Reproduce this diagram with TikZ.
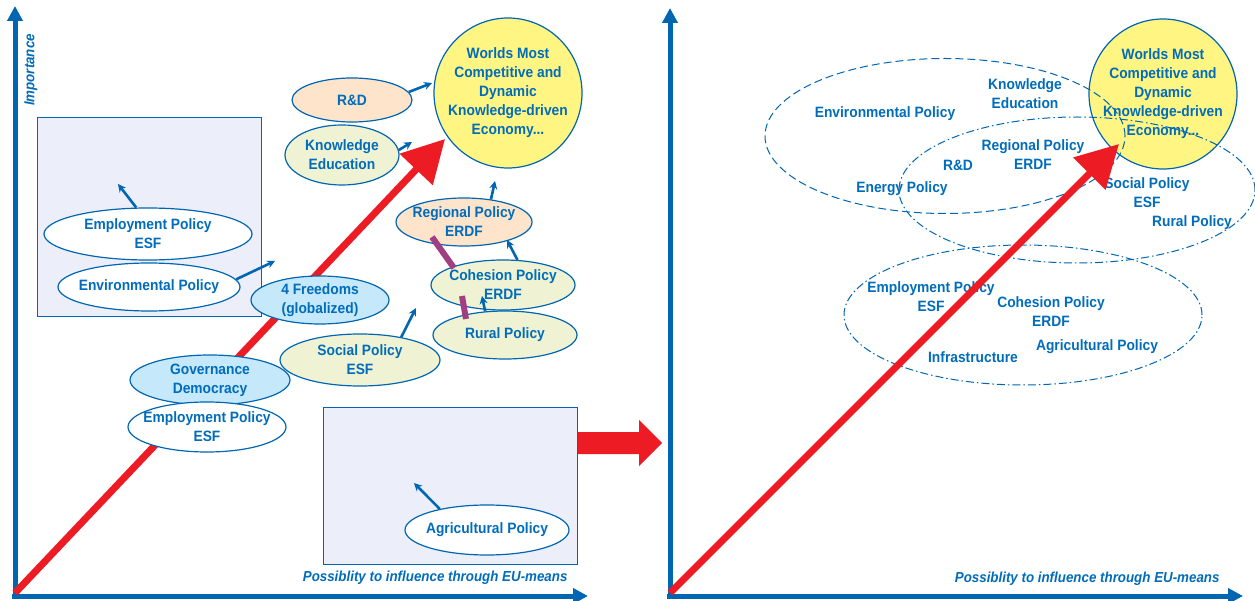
\documentclass[tikz,border=0pt]{standalone}
\usepackage{fontspec}
\setmainfont{Liberation Sans}[FakeStretch=0.92]
\usetikzlibrary{positioning, shapes.geometric, arrows.meta}
\definecolor{eublue}{RGB}{0,102,178}
\definecolor{eutext}{RGB}{0,108,186}
\definecolor{eured}{RGB}{237,28,36}
\definecolor{peach}{RGB}{253,228,202}
\definecolor{pale}{RGB}{240,243,211}
\definecolor{sky}{RGB}{197,232,250}
\definecolor{gold}{RGB}{255,245,130}
\definecolor{lav}{RGB}{236,239,249}
\definecolor{plum}{RGB}{160,64,130}

\begin{document}
\begin{tikzpicture}[x=1pt, y=-1pt,
  txt/.style={text=eutext, font=\bfseries\fontsize{15}{19}\selectfont, align=center},
  pol/.style={ellipse, draw=eublue, line width=1.2pt, inner xsep=-14pt, inner ysep=-8pt, txt},
  boxed/.style={draw=eublue, fill=lav, line width=1pt},
  small/.style={eublue, line width=2.6pt, -{Stealth[length=8pt,width=8pt]}},
  axis/.style={eublue, line width=5pt, -{Triangle[length=15pt,width=15pt]}},
  bigarr/.style={eured, line width=7pt, -{Triangle[length=42pt,width=44pt]}},
  lbl/.style={text=eutext, font=\bfseries\itshape\fontsize{14.5}{16}\selectfont},
  zdash/.style={ellipse, draw=eublue, line width=1pt, dash pattern=on 8pt off 4pt},
  zdot/.style={ellipse, draw=eublue, line width=1pt, dash pattern=on 8pt off 3pt on 1.5pt off 3pt}]
  \useasboundingbox (0,0) rectangle (1255,601);

  \coordinate (o1) at (15,596);
  \coordinate (y1) at (15,6);
  \coordinate (x1) at (588,596);
  \coordinate (r1) at (15,593);
  \coordinate (r1tip) at (445,139);
  \draw[axis] (o1) -- (y1);
  \draw[axis] (12,596) -- (x1);
  \node[lbl, rotate=90] (imp) at (31,70) {Importance};
  \node[lbl, anchor=east] (xlbl1) at (571,578) {Possiblity to influence through EU-means};

  \draw[boxed] (37,118) rectangle (261,317);
  \draw[boxed] (323,407) rectangle (577,564);

  \draw[bigarr] (r1) -- (r1tip);

  \node[pol, fill=gold, minimum width=148pt, minimum height=150pt] (goal1) at (508,93) {Worlds Most\\Competitive and\\Dynamic\\Knowledge-driven\\Economy...};
  \node[pol, fill=peach, minimum width=120pt, minimum height=44pt] (rd1) at (352,100) {R\&D};
  \node[pol, fill=pale, minimum width=114pt, minimum height=60pt] (know1) at (342,155) {Knowledge\\Education};
  \node[pol, fill=white, minimum width=208pt, minimum height=52pt] (emp1) at (148,234) {Employment Policy\\ESF};
  \node[pol, fill=white, minimum width=182pt, minimum height=48pt] (env1) at (149,287) {Environmental Policy};
  \node[pol, fill=sky, minimum width=138pt, minimum height=48pt] (free) at (320,300) {4 Freedoms\\(globalized)};
  \node[pol, fill=pale, minimum width=160pt, minimum height=52pt] (soc1) at (360,360) {Social Policy\\ESF};
  \node[pol, fill=sky, minimum width=160pt, minimum height=50pt] (gov) at (210,380) {Governance\\Democracy};
  \node[pol, fill=white, minimum width=158pt, minimum height=50pt] (emp2) at (207,427) {Employment Policy\\ESF};
  \node[pol, fill=peach, minimum width=136pt, minimum height=48pt] (reg1) at (464,222) {Regional Policy\\ERDF};
  \node[pol, fill=pale, minimum width=144pt, minimum height=50pt] (coh1) at (503,285) {Cohesion Policy\\ERDF};
  \node[pol, fill=pale, minimum width=144pt, minimum height=48pt] (rur1) at (505,335) {Rural Policy};
  \node[pol, fill=white, minimum width=164pt, minimum height=50pt] (agr1) at (487,530) {Agricultural Policy};

  \coordinate (rdtip) at (432,83);
  \coordinate (knowtip) at (412,142);
  \coordinate (emptip) at (118,184);
  \coordinate (envtip) at (275,261);
  \coordinate (soctip) at (416,308);
  \coordinate (regtip) at (495,181);
  \coordinate (cohtip) at (507,240);
  \coordinate (rurtip) at (482,296);
  \coordinate (agrtip) at (414,483);
  \draw[small] (rd1.8) -- (rdtip);
  \draw[small] (know1.5) -- (knowtip);
  \draw[small] (emp1.114) -- (emptip);
  \draw[small] (env1.5) -- (envtip);
  \draw[small] (soc1.29) -- (soctip);
  \draw[small] (reg1.40) -- (regtip);
  \draw[small] (coh1.60) -- (cohtip);
  \draw[small] (rur1.130) -- (rurtip);
  \draw[small] (agr1.156) -- (agrtip);

  \coordinate (bar1a) at (432,237);
  \coordinate (bar1b) at (454,268);
  \coordinate (bar2a) at (462,296);
  \coordinate (bar2b) at (466,319);
  \draw[plum, line width=6pt] (bar1a) -- (bar1b);
  \draw[plum, line width=6pt] (bar2a) -- (bar2b);

  \fill[eured] (578,432) -- (639,432) -- (639,420) -- (662,443) -- (639,466) -- (639,454) -- (578,454) -- cycle;

  \coordinate (o2) at (670,596);
  \coordinate (y2) at (670,8);
  \coordinate (x2) at (1243,596);
  \coordinate (r2) at (670,593);
  \coordinate (r2tip) at (1119,144);
  \draw[axis] (o2) -- (y2);
  \draw[axis] (667,596) -- (x2);
  \node[lbl, anchor=east] (xlbl2) at (1223,579) {Possiblity to influence through EU-means};

  \node[pol, fill=gold, minimum width=148pt, minimum height=150pt] (goal2) at (1163,94) {Worlds Most\\Competitive and\\Dynamic\\Knowledge-driven\\Economy...};
  \node[zdash, minimum width=360pt, minimum height=155pt] (zone1) at (945,136) {};
  \node[zdot, minimum width=356pt, minimum height=146pt] (zone2) at (1077,190) {};
  \node[zdot, minimum width=358pt, minimum height=140pt] (zone3) at (1023,315) {};

  \node[txt] (env2) at (885,114) {Environmental Policy};
  \node[txt] (know2) at (1025,94) {Knowledge\\Education};
  \node[txt] (reg2) at (1033,155) {Regional Policy\\ERDF};
  \node[txt] (rd2) at (958,165) {R\&D};
  \node[txt] (nrg) at (902,189) {Energy Policy};
  \node[txt] (soc2) at (1147,193) {Social Policy\\ESF};
  \node[txt] (rur2) at (1192,223) {Rural Policy};
  \node[txt] (emp3) at (931,297) {Employment Policy\\ESF};
  \node[txt] (coh2) at (1051,312) {Cohesion Policy\\ERDF};
  \node[txt] (infra) at (973,357) {Infrastructure};
  \node[txt] (agr2) at (1097,347) {Agricultural Policy};

  \draw[bigarr] (r2) -- (r2tip);
\end{tikzpicture}
\end{document}
